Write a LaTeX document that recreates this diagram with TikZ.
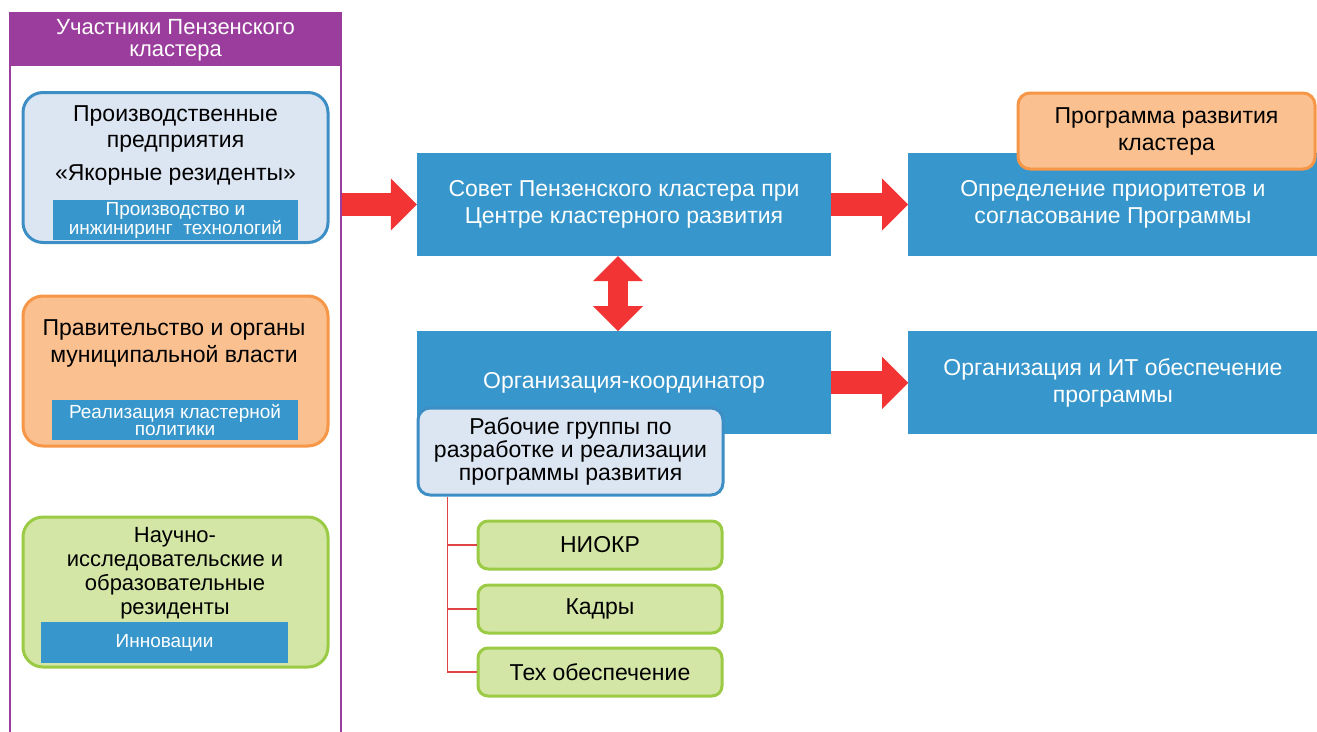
\documentclass[tikz,border=0pt]{standalone}
\usepackage{fontspec}
\setmainfont{Liberation Sans}
\usetikzlibrary{arrows.meta,positioning}

\definecolor{clpurple}{HTML}{9B3D9C}
\definecolor{clblue}{HTML}{3796CB}
\definecolor{clred}{HTML}{F23434}
\definecolor{treered}{HTML}{E04444}
\definecolor{lightblue}{HTML}{DCE6F2}
\definecolor{edgeblue}{HTML}{3D8EC5}
\definecolor{lightorange}{HTML}{FAC08F}
\definecolor{edgeorange}{HTML}{F79646}
\definecolor{lightgreen}{HTML}{D4E6A6}
\definecolor{edgegreen}{HTML}{9BCB45}

\begin{document}
\begin{tikzpicture}[x=1pt,
            y=-1pt,
            every node/.style={inner sep=0pt, align=center,
                               font=\fontsize{23}{26}\selectfont},
            panel/.style={draw=clpurple, line width=2pt,
                          minimum width=331pt, minimum height=722pt},
            header/.style={fill=clpurple, text=white, minimum width=331pt,
                           minimum height=52pt, font=\fontsize{22}{22}\selectfont},
            member/.style={rounded corners=20pt, line width=3pt,
                           minimum width=305pt, minimum height=150pt},
            strip/.style={fill=clblue, text=white, minimum height=40pt,
                          font=\fontsize{19}{17}\selectfont},
            bluebox/.style={fill=clblue, text=white, minimum width=414pt,
                            minimum height=103pt, font=\fontsize{23}{27}\selectfont},
            softbox/.style={rounded corners=12pt, line width=3pt},
            task/.style={rounded corners=10pt, line width=3pt, draw=edgegreen,
                         fill=lightgreen, minimum width=244pt, minimum height=48pt},
            bigarrow/.style={draw=clred, line width=23pt,
                             -{Triangle[length=26pt,width=52pt,line width=0pt 0]}},
            twoway/.style={draw=clred, line width=20pt,
                           {Triangle[length=25pt,width=50pt,line width=0pt 0]}-%
                           {Triangle[length=25pt,width=50pt,line width=0pt 0]}},
            tree/.style={draw=treered, line width=1.3pt}]

        \useasboundingbox (0,0) rectangle (1317,731);

        % participants column
        \node[panel]  (panel) at (175.5,374) {};
        \node[header] (head)  at (175.5,40)  {Участники Пензенского\\кластера};

        \node[member, draw=edgeblue, fill=lightblue] (anchor) at (175.5,167.5) {};
        \node (anchortext) at (175.5,129) {Производственные\\предприятия};
        \node (anchorname) at (175.5,175) {«Якорные резиденты»};
        \node[strip, minimum width=245pt] (anchorstrip) at (175.5,220)
            {Производство и\\инжиниринг~ технологий};

        \node[member, draw=edgeorange, fill=lightorange] (gov) at (175.5,371) {};
        \node[font=\fontsize{23}{27}\selectfont] (govtext) at (174,343)
            {Правительство и органы\\муниципальной власти};
        \node[strip, minimum width=246pt] (govstrip) at (175,420)
            {Реализация кластерной\\политики};

        \node[member, draw=edgegreen, fill=lightgreen] (science) at (175.5,592) {};
        \node[font=\fontsize{22}{24}\selectfont] (sciencetext) at (175,573)
            {Научно-\\исследовательские и\\образовательные\\резиденты};
        \node[strip, minimum width=247pt, minimum height=41pt,
              font=\fontsize{19}{19}\selectfont] (sciencestrip) at (164.5,642.5) {Инновации};

        % council and coordinator
        \node[bluebox] (council) at (624,204.5)
            {Совет Пензенского кластера при\\Центре кластерного развития};
        \node[bluebox] (coord) [below=75pt of council] {Организация-координатор};
        \node[softbox, draw=edgeblue, fill=lightblue, minimum width=305pt,
              minimum height=87pt, font=\fontsize{23}{23}\selectfont] (groups) at (570.5,451.5)
            {Рабочие группы по\\разработке и реализации\\программы развития};

        \node[task] (niokr)   at (600,545)            {НИОКР};
        \node[task] (staff)   [below=13pt of niokr]  {Кадры};
        \node[task] (techsup) [below=12pt of staff]  {Тех обеспечение};

        % programme column
        \node[bluebox, minimum width=409pt] (priority) [right=77pt of council]
            {Определение приоритетов и\\согласование Программы};
        \node[softbox, draw=edgeorange, fill=lightorange, minimum width=297pt,
              minimum height=76pt, font=\fontsize{23}{27}\selectfont] (programme) at (1166.5,131)
            {Программа развития\\кластера};
        \node[bluebox, minimum width=409pt] (support) [right=77pt of coord]
            {Организация и ИТ обеспечение\\программы};

        \draw[bigarrow] (panel.east |- council.west) -- (council.west);
        \draw[bigarrow] (council) -- (priority);
        \draw[bigarrow] (coord) -- (support);
        \draw[twoway] ([xshift=-6pt]council.south) -- ([xshift=-6pt]coord.north);

        \foreach \t in {niokr,staff,techsup}
            \draw[tree] (\t.west) -| ([xshift=31pt]groups.south west);

    \end{tikzpicture}
\end{document}
